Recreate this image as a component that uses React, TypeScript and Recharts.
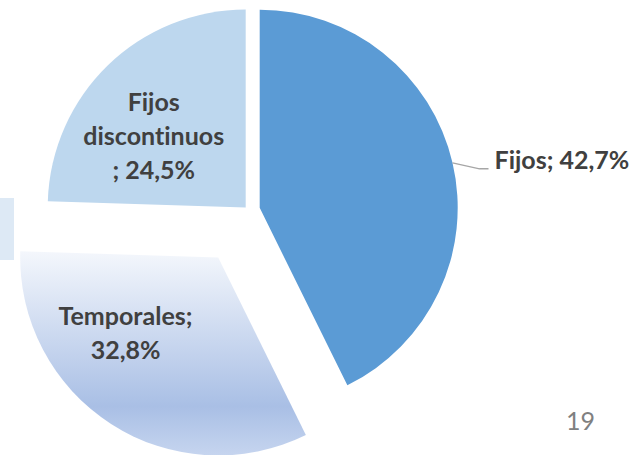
import React from 'react';
import { PieChart, Pie, Cell, Sector } from 'recharts';

// ---- data ----
const categories = ['Fijos', 'Temporales', 'Fijos discontinuos'];
const shares = [42.7, 32.8, 24.5];
const labelLines = [['Fijos; 42,7%'], ['Temporales;', '32,8%'], ['Fijos', 'discontinuos', '; 24,5%']];
const colors = ['#5b9bd5', 'url(#tempGrad)', '#bdd7ee'];
const explode = [11.5, 56, 4];
// inside label placement: [radius fraction, angle shift in degrees]
const labelPlace = [[1, 0], [0.632, -15], [0.563, 11.5]];
const pageNumber = '19';

const data = categories.map((name, i) => ({ name, value: shares[i] }));

const RAD = Math.PI / 180;
const FONT = 'Lato, "Open Sans", sans-serif';
const LH = 34;
const noLig = { fontVariantLigatures: 'none' as const, fontFeatureSettings: '"liga" 0, "clig" 0' };

const shiftedCenter = (cx: number, cy: number, mid: number, d: number) => ({
  x: cx + d * Math.cos(mid * RAD),
  y: cy - d * Math.sin(mid * RAD),
});

const ExplodedSector = (props: any) => {
  const name = props.name ?? props.payload?.name;
  const i = categories.indexOf(name);
  const c = shiftedCenter(props.cx, props.cy, props.midAngle, explode[i] ?? 0);
  return (
    <Sector
      cx={c.x}
      cy={c.y}
      innerRadius={props.innerRadius}
      outerRadius={props.outerRadius}
      startAngle={props.startAngle}
      endAngle={props.endAngle}
      fill={props.fill}
      stroke="none"
    />
  );
};

const renderLabel = (props: any) => {
  const { cx, cy, midAngle, outerRadius } = props;
  const name = props.name ?? props.payload?.name;
  const i = categories.indexOf(name);
  const c = shiftedCenter(cx, cy, midAngle, explode[i] ?? 0);
  const lines = labelLines[i];
  if (i === 0) {
    const p1 = { x: c.x + outerRadius * Math.cos(midAngle * RAD), y: c.y - outerRadius * Math.sin(midAngle * RAD) };
    const p2 = { x: p1.x + 27, y: p1.y + 6 };
    const p3 = { x: p2.x + 9, y: p2.y };
    return (
      <g key={`lbl-${i}`}>
        <polyline points={`${p1.x},${p1.y} ${p2.x},${p2.y} ${p3.x},${p3.y}`} fill="none" stroke="#a6a6a6" strokeWidth={1.3} />
        <text x={p3.x + 6} y={p3.y} fill="#404040" fontFamily={FONT} fontWeight={700} fontSize={25} textAnchor="start" style={noLig}>
          {lines[0]}
        </text>
      </g>
    );
  }
  const [rf, shift] = labelPlace[i];
  const a = (midAngle + shift) * RAD;
  const ax = c.x + outerRadius * rf * Math.cos(a);
  const ay = c.y - outerRadius * rf * Math.sin(a);
  const n = lines.length;
  return (
    <text key={`lbl-${i}`} fill="#404040" fontFamily={FONT} fontWeight={700} fontSize={25} textAnchor="middle" style={noLig}>
      {lines.map((t, k) => (
        <tspan key={k} x={ax} y={ay + (k - (n - 1) / 2) * LH}>
          {t}
        </tspan>
      ))}
    </text>
  );
};

export default function App() {
  return (
    <div style={{ position: 'absolute', left: 0, top: 0, width: 635, height: 455, background: '#ffffff', overflow: 'hidden' }}>
      <div style={{ position: 'absolute', left: 0, top: 198, width: 14, height: 62, background: '#dde9f5' }} />
      <PieChart width={635} height={455} margin={{ top: 0, right: 0, bottom: 0, left: 0 }}>
        <defs>
          <linearGradient id="tempGrad" x1="0" y1="0" x2="0" y2="1">
            <stop offset="0" stopColor="#f4f7fc" />
            <stop offset="0.76" stopColor="#a9bfe5" />
            <stop offset="1" stopColor="#c6d5ef" />
          </linearGradient>
        </defs>
        <Pie
          data={data}
          dataKey="value"
          nameKey="name"
          cx={248.5}
          cy={210.4}
          outerRadius={198}
          startAngle={90}
          endAngle={-270}
          stroke="none"
          isAnimationActive={false}
          shape={ExplodedSector}
          activeShape={ExplodedSector}
          label={renderLabel}
          labelLine={false}
        >
          {data.map((d, i) => (
            <Cell key={d.name} fill={colors[i]} />
          ))}
        </Pie>
      </PieChart>
      <div
        style={{
          position: 'absolute',
          left: 566,
          top: 405,
          fontFamily: FONT,
          fontSize: 25,
          color: '#808080',
          lineHeight: '30px',
        }}
      >
        {pageNumber}
      </div>
    </div>
  );
}
